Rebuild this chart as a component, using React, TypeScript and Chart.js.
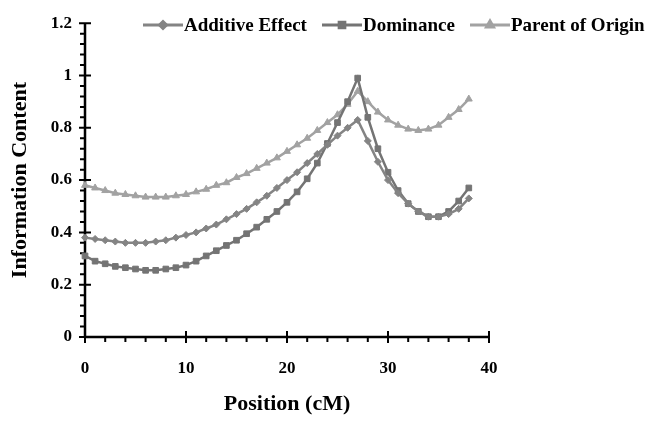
import React, { useEffect, useRef } from "react";
import { Chart, registerables } from "chart.js";
import { drawPoint } from "chart.js/helpers";

Chart.register(...registerables);

const positions = [0, 1, 2, 3, 4, 5, 6, 7, 8, 9, 10, 11, 12, 13, 14, 15, 16, 17, 18, 19, 20, 21, 22, 23, 24, 25, 26, 27, 28, 29, 30, 31, 32, 33, 34, 35, 36, 37, 38];
const additive = [0.38, 0.375, 0.37, 0.365, 0.36, 0.36, 0.36, 0.365, 0.37, 0.38, 0.39, 0.40, 0.415, 0.43, 0.45, 0.47, 0.49, 0.515, 0.54, 0.57, 0.60, 0.63, 0.665, 0.70, 0.735, 0.77, 0.80, 0.83, 0.75, 0.67, 0.60, 0.55, 0.51, 0.48, 0.46, 0.46, 0.47, 0.49, 0.53];
const dominance = [0.31, 0.29, 0.28, 0.27, 0.265, 0.26, 0.255, 0.255, 0.26, 0.265, 0.275, 0.29, 0.31, 0.33, 0.35, 0.37, 0.395, 0.42, 0.45, 0.48, 0.515, 0.555, 0.605, 0.665, 0.74, 0.82, 0.90, 0.99, 0.84, 0.72, 0.63, 0.56, 0.51, 0.48, 0.46, 0.46, 0.48, 0.52, 0.57];
const parentOrigin = [0.58, 0.57, 0.56, 0.55, 0.545, 0.54, 0.535, 0.535, 0.535, 0.54, 0.545, 0.555, 0.565, 0.58, 0.59, 0.61, 0.625, 0.645, 0.665, 0.685, 0.71, 0.735, 0.76, 0.79, 0.82, 0.85, 0.89, 0.94, 0.90, 0.86, 0.83, 0.81, 0.795, 0.79, 0.795, 0.81, 0.84, 0.87, 0.91];

const seriesNames = ["Additive Effect", "Dominance", "Parent of Origin"];
const xTitle = "Position (cM)";
const yTitle = "Information Content";

const FONT = '"Liberation Serif", "Times New Roman", serif';
const COLORS = ["#848484", "#747474", "#a2a2a2"];
const STYLES = ["rectRot", "rect", "triangle"];
const RADII = [3.5, 4, 4];

const axesPlugin = {
  id: "axesDraw",
  beforeDatasetsDraw(chart: any) {
    const { ctx, chartArea } = chart;
    const { left, right, top, bottom } = chartArea;
    const x = chart.scales.x;
    const y = chart.scales.y;
    ctx.save();
    ctx.strokeStyle = "#000";
    ctx.lineWidth = 2.5;
    ctx.beginPath();
    ctx.moveTo(left, top);
    ctx.lineTo(left, bottom);
    ctx.moveTo(left, bottom);
    ctx.lineTo(right, bottom);
    ctx.stroke();
    ctx.lineWidth = 2;
    ctx.beginPath();
    for (let i = 0; i <= 30; i++) {
      const py = y.getPixelForValue(i * 0.04);
      if (i % 5 === 0) {
        ctx.moveTo(left - 6, py);
        ctx.lineTo(left + 6, py);
      } else {
        ctx.moveTo(left - 5, py);
        ctx.lineTo(left, py);
      }
    }
    for (let i = 0; i <= 20; i++) {
      const px = x.getPixelForValue(i * 2);
      if (i % 5 === 0) {
        ctx.moveTo(px, bottom - 6);
        ctx.lineTo(px, bottom + 6);
      } else {
        ctx.moveTo(px, bottom);
        ctx.lineTo(px, bottom + 5);
      }
    }
    ctx.stroke();
    ctx.restore();
  },
};

const LEGEND_X = [143, 322, 470];
const LEGEND_LINE = 40;
const LEGEND_Y = 25;

const legendPlugin = {
  id: "customLegend",
  afterDraw(chart: any) {
    const { ctx } = chart;
    ctx.save();
    chart.data.datasets.forEach((ds: any, i: number) => {
      const x0 = LEGEND_X[i];
      ctx.strokeStyle = ds.borderColor;
      ctx.fillStyle = ds.borderColor;
      ctx.lineWidth = 3;
      ctx.beginPath();
      ctx.moveTo(x0, LEGEND_Y);
      ctx.lineTo(x0 + LEGEND_LINE, LEGEND_Y);
      ctx.stroke();
      drawPoint(ctx, { pointStyle: ds.pointStyle, radius: ds.pointRadius, rotation: 0, borderWidth: 1 }, x0 + LEGEND_LINE / 2, LEGEND_Y);
      ctx.fillStyle = "#000";
      ctx.font = `bold 19px ${FONT}`;
      ctx.textBaseline = "middle";
      ctx.textAlign = "left";
      ctx.fillText(ds.label, x0 + LEGEND_LINE + 1, LEGEND_Y + 1);
    });
    ctx.restore();
  },
};

export default function App() {
  const ref = useRef<HTMLCanvasElement | null>(null);
  useEffect(() => {
    if (!ref.current) return;
    const series = [additive, dominance, parentOrigin];
    const chart = new Chart(ref.current, {
      type: "line",
      data: {
        datasets: series.map((vals, i) => ({
          label: seriesNames[i],
          data: positions.map((p, j) => ({ x: p, y: vals[j] })),
          borderColor: COLORS[i],
          backgroundColor: COLORS[i],
          pointBackgroundColor: COLORS[i],
          pointBorderColor: COLORS[i],
          pointStyle: STYLES[i],
          pointRadius: RADII[i],
          pointBorderWidth: 1,
          borderWidth: 2.5,
          tension: 0,
          fill: false,
          clip: false,
        })),
      },
      options: {
        animation: false,
        responsive: false,
        maintainAspectRatio: false,
        layout: { padding: { left: 0, right: 157, top: 21, bottom: 0 } },
        plugins: { legend: { display: false }, tooltip: { enabled: false } },
        scales: {
          x: {
            type: "linear",
            min: 0,
            max: 40,
            border: { display: false },
            grid: { display: false, drawTicks: false },
            ticks: {
              stepSize: 10,
              color: "#000",
              padding: 21,
              font: { family: FONT, size: 17, weight: "bold" },
              maxRotation: 0,
            },
            title: {
              display: true,
              text: xTitle,
              color: "#000",
              font: { family: FONT, size: 22, weight: "bold" },
              padding: { top: 0, bottom: 3 },
            },
            afterFit(scale: any) {
              scale.height = 84;
            },
          },
          y: {
            min: 0,
            max: 1.2,
            border: { display: false },
            grid: { display: false, drawTicks: false },
            ticks: {
              stepSize: 0.2,
              color: "#000",
              padding: 13,
              font: { family: FONT, size: 17, weight: "bold" },
              callback: (v: any) => String(Math.round(Number(v) * 10) / 10),
            },
            title: {
              display: true,
              text: yTitle,
              color: "#000",
              font: { family: FONT, size: 22, weight: "bold" },
              padding: { top: 7, bottom: 0 },
            },
            afterFit(scale: any) {
              scale.width = 85;
            },
          },
        },
      },
      plugins: [axesPlugin, legendPlugin],
    } as any);
    return () => chart.destroy();
  }, []);
  return (
    <div style={{ position: "fixed", left: 0, top: 0, width: 646, height: 421, background: "#fff" }}>
      <canvas ref={ref} width={646} height={421} style={{ width: 646, height: 421 }} />
    </div>
  );
}
